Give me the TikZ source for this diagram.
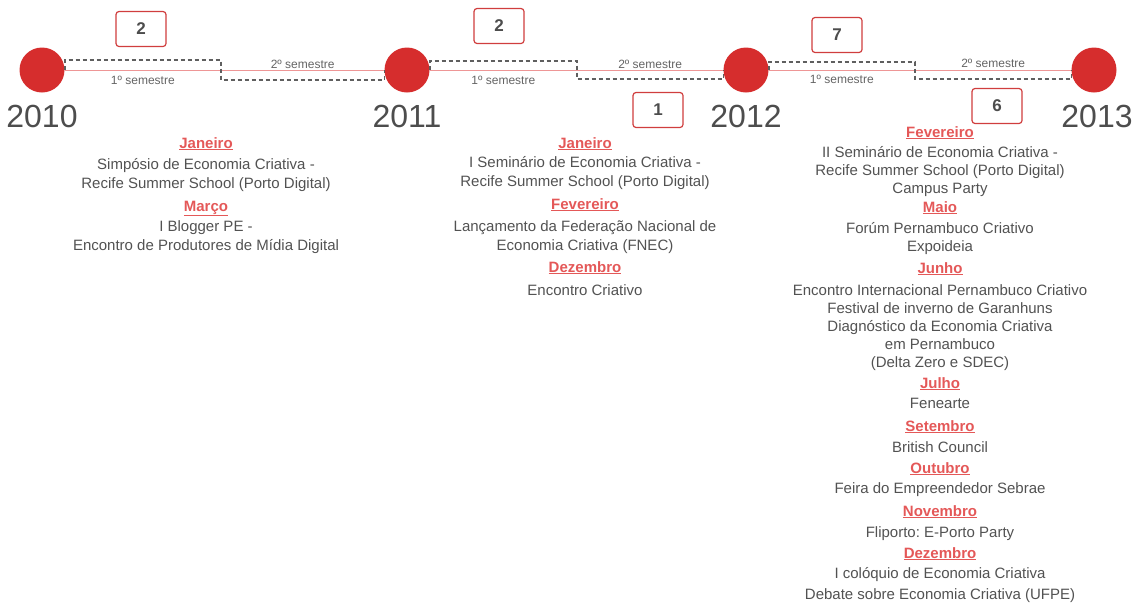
\documentclass[tikz,border=0pt]{standalone}
\usepackage{fontspec}
\setmainfont{Liberation Sans}
\usepackage{tikz}
\usetikzlibrary{positioning, calc}
\frenchspacing

\definecolor{marcocor}{RGB}{214,45,45}
\definecolor{anocor}{RGB}{77,77,77}
\definecolor{eixocor}{RGB}{238,150,150}
\definecolor{tracocor}{RGB}{95,95,95}
\definecolor{caixacor}{RGB}{208,62,62}
\definecolor{mescor}{RGB}{228,88,88}
\definecolor{textocor}{RGB}{82,82,82}
\definecolor{semcor}{RGB}{100,100,100}

\newcommand{\mes}[1]{{\color{mescor}\bfseries\underline{#1}}}

\begin{document}
\begin{tikzpicture}[x=1pt, y=-1pt, marco/.style={circle, fill=marcocor, minimum size=45pt, inner sep=0pt}, ano/.style={text=anocor, font=\fontsize{32}{32}\selectfont, inner sep=0pt}, qtd/.style={draw=caixacor, line width=1.2pt, rounded corners=3pt, fill=white, minimum width=50pt, minimum height=35pt, font=\fontsize{17}{17}\selectfont\bfseries, text=anocor}, sem/.style={text=semcor, font=\fontsize{12}{12}\selectfont, inner sep=0pt}, eixo/.style={draw=eixocor, line width=0.8pt}, tracejado/.style={draw=tracocor, line width=1.6pt, dash pattern=on 4pt off 3pt}, eventos/.style={align=center, text=textocor, inner sep=0pt, anchor=north, font=\fontsize{15}{19}\selectfont}]
      \useasboundingbox (0,0) rectangle (1139,606);

      % marcos da linha do tempo
      \node[marco] (c2010) at (42,70) {}; \node[marco] (c2011) at (407,70) {};
      \node[marco] (c2012) at (746,70) {}; \node[marco] (c2013) at (1094,70) {};
      \node[ano, below=12pt of c2010] (a2010) {2010}; \node[ano, below=12pt of c2011] (a2011) {2011};
      \node[ano, below=12pt of c2012] (a2012) {2012}; \node[ano, below=12pt of c2013, xshift=3pt] (a2013) {2013};

      \draw[eixo] (c2010.east) -- (c2011.west); \draw[eixo] (c2011.east) -- (c2012.west);
      \draw[eixo] (c2012.east) -- (c2013.west);

      % semestres
      \coordinate (s1) at (221,70); \coordinate (s2) at (577,70); \coordinate (s3) at (915,70);
      \draw[tracejado] (c2010.east) |- ($(s1)+(0,-10)$) -- ($(s1)+(0,10)$) -| (c2011.west);
      \draw[tracejado] (c2011.east) |- ($(s2)+(0,-9)$) -- ($(s2)+(0,9)$) -| (c2012.west);
      \draw[tracejado] (c2012.east) |- ($(s3)+(0,-8)$) -- ($(s3)+(0,9)$) -| (c2013.west);

      \node[sem] (p1s1) at ($(c2010.east)!.5!(s1)+(0,10)$) {1º semestre};
      \node[sem] (p1s2) at ($(s1)!.5!(c2011.west)+(0,-6)$) {2º semestre};
      \node[sem] (p2s1) at ($(c2011.east)!.5!(s2)+(0,10)$) {1º semestre};
      \node[sem] (p2s2) at ($(s2)!.5!(c2012.west)+(0,-6)$) {2º semestre};
      \node[sem] (p3s1) at ($(c2012.east)!.5!(s3)+(0,9)$) {1º semestre};
      \node[sem] (p3s2) at ($(s3)!.5!(c2013.west)+(0,-7)$) {2º semestre};

      \node[qtd] (n1a) at (141,29) {2}; \node[qtd] (n2a) at (499,26) {2};
      \node[qtd] (n2b) at (658,110) {1}; \node[qtd] (n3a) at (837,35) {7};
      \node[qtd] (n3b) at (997,106) {6};

      % eventos
      \node[eventos] (ev2010) at (206,137) {\mes{Janeiro}\\[2pt] Simpósio de Economia Criativa -\\ Recife Summer School (Porto Digital)\\[4pt] \mes{Março}\\[1pt] I Blogger PE -\\ Encontro de Produtores de Mídia Digital};
      \node[eventos] (ev2011) at (585,137) {\mes{Janeiro}\\ I Seminário de Economia Criativa -\\ Recife Summer School (Porto Digital)\\[4pt] \mes{Fevereiro}\\[3pt] Lançamento da Federação Nacional de\\ Economia Criativa (FNEC)\\[3pt] \mes{Dezembro}\\[4pt] Encontro Criativo};
      \node[eventos, font=\fontsize{15}{18}\selectfont] (ev2012) at (940,126) {\mes{Fevereiro}\\[2pt] II Seminário de Economia Criativa -\\ Recife Summer School (Porto Digital)\\ Campus Party\\[1pt] \mes{Maio}\\[3pt] Forúm Pernambuco Criativo\\ Expoideia\\[4pt] \mes{Junho}\\[4pt] Encontro Internacional Pernambuco Criativo\\ Festival de inverno de Garanhuns\\ Diagnóstico da Economia Criativa\\ em Pernambuco\\ (Delta Zero e SDEC)\\[3pt] \mes{Julho}\\[2pt] Fenearte\\[5pt] \mes{Setembro}\\[3pt] British Council\\[3pt] \mes{Outubro}\\[2pt] Feira do Empreendedor Sebrae\\[5pt] \mes{Novembro}\\[3pt] Fliporto: E-Porto Party\\[3pt] \mes{Dezembro}\\[2pt] I colóquio de Economia Criativa\\[3pt] Debate sobre Economia Criativa (UFPE)};
    \end{tikzpicture}
\end{document}
